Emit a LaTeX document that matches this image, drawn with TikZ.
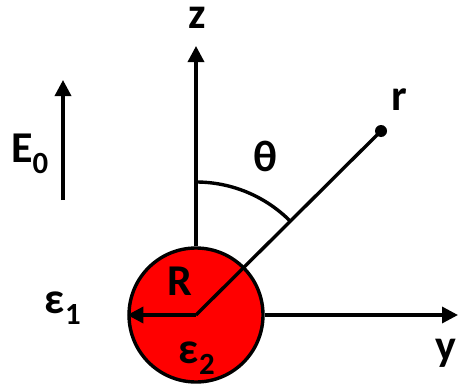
\documentclass[tikz,border=0pt]{standalone}
\usepackage{fontspec}
\setmainfont{Carlito}
\usetikzlibrary{arrows.meta}
\begin{document}
\begin{tikzpicture}[x=1pt,y=-1pt,
  ln/.style={line width=3.4pt},
  arr/.style={ln,-{Triangle[length=16pt,width=16pt]}},
  lbl/.style={font=\fontsize{44}{48}\selectfont\bfseries, inner sep=0pt, anchor=base}]
\useasboundingbox (0,0) rectangle (458,388);
\coordinate (O) at (196,315);
\node[circle, minimum size=134pt, inner sep=0pt, fill=red, draw=black, ln] (sphere) at (O) {};
\coordinate (ztip) at (196,46);
\coordinate (ytip) at (458,315);
\coordinate (etail) at (63,200);
\coordinate (etip) at (63,80);
\node[circle, fill=black, inner sep=0pt, minimum size=12pt] (rdot) at (381,131) {};
\draw[arr] (sphere.north) -- (ztip);
\draw[arr] (sphere.east) -- (ytip);
\draw[arr] (etail) -- (etip);
\draw[ln] (O) -- (rdot.center);
\draw[arr] (O) -- (sphere.west);
\draw[ln] (O) ++(-90:133) arc[start angle=-90, end angle=-45, radius=133];
\node[lbl] (z) at (197,28) {z};
\node[lbl] (y) at (446,360) {y};
\node[lbl] (r) at (399,110) {r};
\node[lbl] (th) at (265,171) {θ};
\node[lbl] (E) at (30,162) {E\textsubscript{0}};
\node[lbl] (e1) at (63,313) {ε\textsubscript{1}};
\node[lbl] (R) at (180,295) {R};
\node[lbl] (e2) at (197,363) {ε\textsubscript{2}};
\end{tikzpicture}
\end{document}
